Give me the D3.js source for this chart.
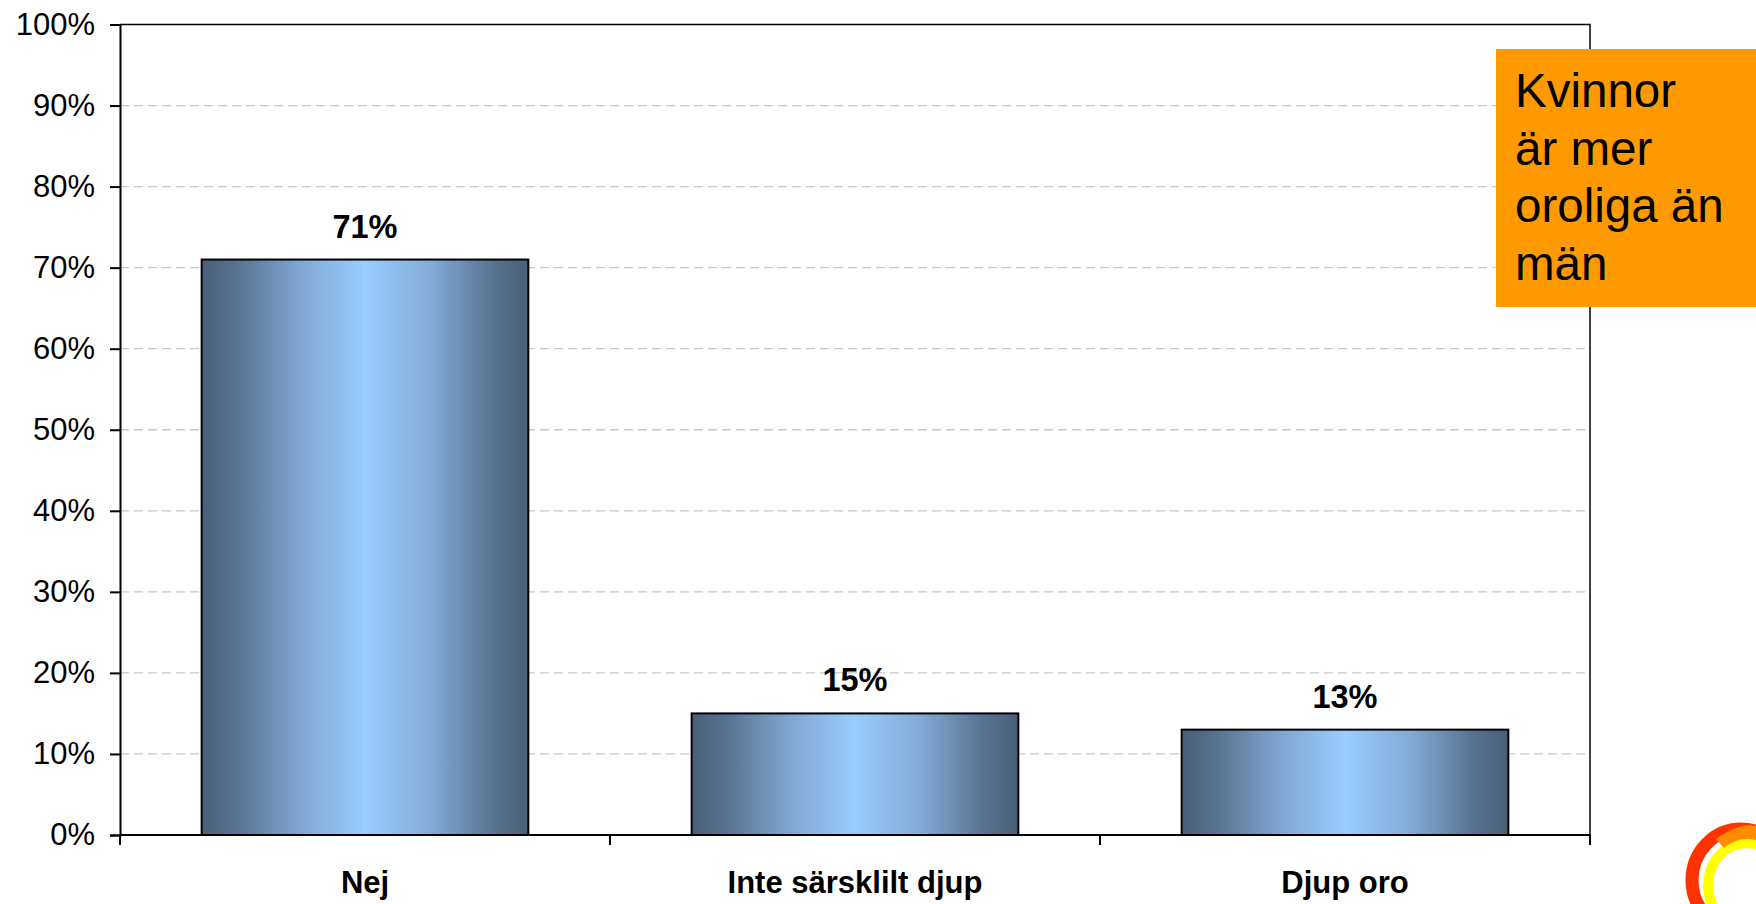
<!DOCTYPE html>
<html>
<head>
<meta charset="utf-8">
<script src="https://cdn.jsdelivr.net/npm/d3@7"></script>
<style>
  body { margin: 0; background: #fff; }
  svg { display: block; font-family: Arial, "Liberation Sans", sans-serif; }
</style>
</head>
<body>
<div id="chart"></div>
<script>
// data
var categories = ['Nej', 'Inte särsklilt djup', 'Djup oro'];
var values = [71, 15, 13];
var yTicks = [0, 10, 20, 30, 40, 50, 60, 70, 80, 90, 100];
var noteLines = ['Kvinnor', 'är mer', 'oroliga än', 'män'];

var svgWidth = 1756
var svgHeight = 904
var margin = {top: 24.5, right: 166, bottom: 69, left: 120}
var plotW = svgWidth - margin.left - margin.right
var plotH = svgHeight - margin.top - margin.bottom

var svg = d3.select('#chart')
    .append('svg')
    .attr('width', svgWidth)
    .attr('height', svgHeight)

// bar gradient, dark edges to light middle
var grad = svg.append('defs').append('linearGradient')
    .attr('id', 'barGrad')
    .attr('x1', '0%').attr('x2', '100%')
    .attr('y1', '0%').attr('y2', '0%')
var stops = [[0, '#4a5f78'], [0.1, '#56718f'], [0.3, '#7fa6d2'], [0.5, '#99ccff'], [0.7, '#82abd8'], [0.9, '#56718f'], [1, '#4a5f78']]
grad.selectAll('stop')
    .data(stops)
    .enter()
    .append('stop')
    .attr('offset', function(d) { return d[0] })
    .attr('stop-color', function(d) { return d[1] })

var g = svg.append('g')
    .attr('transform', 'translate(' + margin.left + ',' + margin.top + ')')

var x = d3.scaleBand()
    .domain(categories)
    .range([0, plotW])
    .paddingInner(1 / 3)
    .paddingOuter(1 / 6)

var y = d3.scaleLinear()
    .domain([0, 100])
    .range([plotH, 0])

// dashed gridlines
g.selectAll('.grid')
    .data(yTicks.filter(function(d) { return d > 0 && d < 100 }))
    .enter()
    .append('line')
    .attr('x1', 0)
    .attr('x2', plotW)
    .attr('y1', function(d) { return y(d) })
    .attr('y2', function(d) { return y(d) })
    .attr('stroke', '#c8c8c8')
    .attr('stroke-width', 1.3)
    .attr('stroke-dasharray', '9,5')

// plot border top + right
g.append('path')
    .attr('d', 'M0,0H' + plotW + 'V' + plotH)
    .attr('fill', 'none')
    .attr('stroke', '#000')
    .attr('stroke-width', 1.5)

// bars
g.selectAll('rect.bar')
    .data(values)
    .enter()
    .append('rect')
    .classed('bar', true)
    .attr('x', function(d, i) { return x(categories[i]) })
    .attr('y', function(d) { return y(d) })
    .attr('width', x.bandwidth())
    .attr('height', function(d) { return plotH - y(d) })
    .attr('fill', 'url(#barGrad)')
    .attr('stroke', '#000')
    .attr('stroke-width', 2)

// value labels
g.selectAll('text.val')
    .data(values)
    .enter()
    .append('text')
    .attr('x', function(d, i) { return x(categories[i]) + x.bandwidth() / 2 })
    .attr('y', function(d) { return y(d) - 22 })
    .attr('text-anchor', 'middle')
    .attr('font-size', 32.5)
    .attr('font-weight', 'bold')
    .text(function(d) { return d + '%' })

// y axis
var yAxis = g.append('g')
    .call(d3.axisLeft(y).tickValues(yTicks).tickSize(10).tickPadding(15)
        .tickFormat(function(d) { return d + '%' }))
yAxis.select('.domain').attr('stroke-width', 2)
yAxis.selectAll('.tick line').attr('stroke-width', 2)
yAxis.selectAll('text')
    .attr('font-size', 31)
    .attr('font-family', 'Arial, "Liberation Sans", sans-serif')
    .attr('fill', '#000')

// x axis: ticks between categories
var xAxis = g.append('g')
    .attr('transform', 'translate(0,' + plotH + ')')
var xTickPos = d3.range(categories.length + 1).map(function(i) { return i * plotW / categories.length })
xAxis.append('line')
    .attr('x1', 0).attr('x2', plotW)
    .attr('stroke', '#000').attr('stroke-width', 2)
xAxis.selectAll('line.xt')
    .data(xTickPos)
    .enter()
    .append('line')
    .attr('x1', function(d) { return d }).attr('x2', function(d) { return d })
    .attr('y1', 0).attr('y2', 10)
    .attr('stroke', '#000').attr('stroke-width', 2)
xAxis.selectAll('text')
    .data(categories)
    .enter()
    .append('text')
    .attr('x', function(d) { return x(d) + x.bandwidth() / 2 })
    .attr('y', 58)
    .attr('text-anchor', 'middle')
    .attr('font-size', 31)
    .attr('font-weight', 'bold')
    .text(function(d) { return d })

// orange note box
svg.append('rect')
    .attr('x', 1496)
    .attr('y', 49)
    .attr('width', 260)
    .attr('height', 258)
    .attr('fill', '#ff9900')
svg.append('g').selectAll('text')
    .data(noteLines)
    .enter()
    .append('text')
    .attr('x', 1515)
    .attr('y', function(d, i) { return 107 + i * 57.7 })
    .attr('font-size', 47.5)
    .attr('fill', '#000')
    .text(function(d) { return d })

// logo rings in the corner
var logo = svg.append('g')
logo.append('ellipse')
    .attr('cx', 1741).attr('cy', 880)
    .attr('rx', 49).attr('ry', 51)
    .attr('fill', 'none').attr('stroke', '#ff3300').attr('stroke-width', 13)
logo.append('ellipse')
    .attr('cx', 1747).attr('cy', 885)
    .attr('rx', 39).attr('ry', 42)
    .attr('fill', 'none').attr('stroke', '#ffff00').attr('stroke-width', 10)
logo.append('path')
    .attr('d', 'M1716,839 Q1740,822 1756,826 L1756,840 Q1738,836 1724,848 Z')
    .attr('fill', '#ff8c00')
</script>
</body>
</html>
